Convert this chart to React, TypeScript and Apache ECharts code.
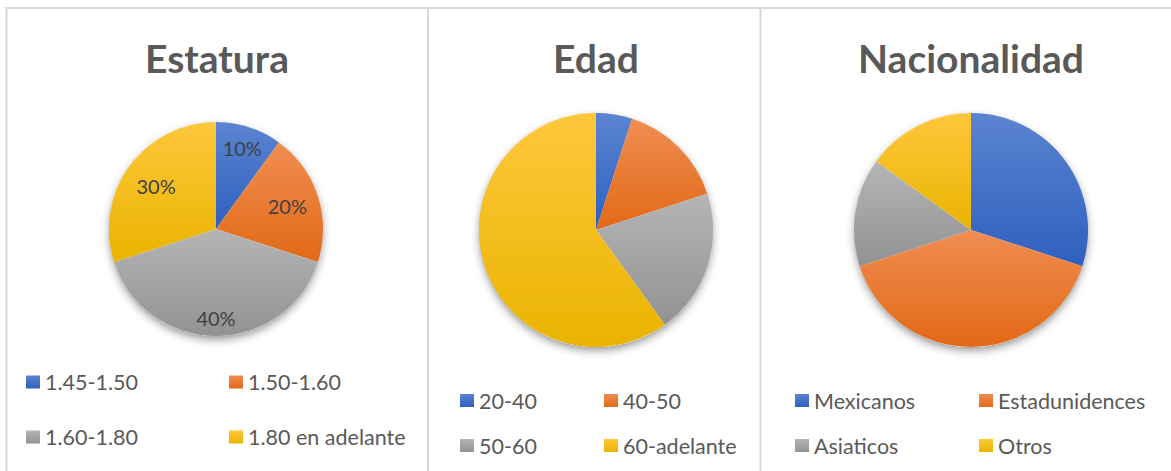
import React, { useEffect, useRef } from "react";
import * as echarts from "echarts";

// ---- data ----
const titles = ["Estatura", "Edad", "Nacionalidad"];
const estaturaCats = ["1.45-1.50", "1.50-1.60", "1.60-1.80", "1.80 en adelante"];
const estaturaVals = [10, 20, 40, 30];
const edadCats = ["20-40", "40-50", "50-60", "60-adelante"];
const edadVals = [5, 15, 20, 60];
const nacCats = ["Mexicanos", "Estadunidences", "Asiaticos", "Otros"];
const nacVals = [30, 40, 15, 15];

const gradients = [
  ["#5B84D1", "#2F60BE"],
  ["#F08D52", "#E26916"],
  ["#B5B5B5", "#929292"],
  ["#FFC73C", "#E9B400"],
];

const grad = (c: string[]) =>
  new echarts.graphic.LinearGradient(0, 0, 0, 1, [
    { offset: 0, color: c[0] },
    { offset: 1, color: c[1] },
  ]);

export default function App() {
  const ref = useRef<HTMLDivElement>(null);
  useEffect(() => {
    if (!ref.current) return;
    const chart = echarts.init(ref.current, undefined, { renderer: "svg" });

    const panels = [
      {
        cats: estaturaCats, vals: estaturaVals, cx: 216, cy: 229, r: 107, titleX: 217,
        labels: true, labelDist: [82, 72, 86, 71],
        cols: [26, 229], rows: [381.5, 436.5],
      },
      {
        cats: edadCats, vals: edadVals, cx: 596, cy: 230, r: 117, titleX: 596,
        labels: false, labelDist: [],
        cols: [460, 604], rows: [400, 445],
      },
      {
        cats: nacCats, vals: nacVals, cx: 971, cy: 230, r: 117, titleX: 971,
        labels: false, labelDist: [],
        cols: [795, 979], rows: [400, 445],
      },
    ];

    const series: any[] = [];
    const legends: any[] = [];
    const titleOpts: any[] = [];

    panels.forEach((p, pi) => {
      titleOpts.push({
        text: titles[pi],
        left: p.titleX,
        top: 58,
        textAlign: "center",
        textVerticalAlign: "middle",
        padding: 0,
        textStyle: { fontFamily: "Lato", fontWeight: "bold", fontSize: 39, color: "#595959" },
      });
      const data = p.cats.map((c, i) => ({
        name: c,
        value: p.vals[i],
        itemStyle: { color: grad(gradients[i]) },
      }));
      series.push({
        type: "pie",
        center: [p.cx, p.cy],
        radius: [0, p.r],
        z: 3,
        silent: true,
        label: { show: false },
        labelLine: { show: false },
        emphasis: { disabled: true },
        data,
      });
      // shadow disc
      series.push({
        type: "pie",
        center: [p.cx, p.cy + 1],
        radius: [0, p.r - 1],
        z: 1,
        silent: true,
        label: { show: false },
        labelLine: { show: false },
        emphasis: { disabled: true },
        data: [
          {
            name: "sombra" + pi,
            value: 1,
            itemStyle: {
              color: "#ffffff",
              shadowBlur: 10,
              shadowColor: "rgba(0,0,0,0.45)",
              shadowOffsetY: 3,
            },
          },
        ],
      });
      if (p.labels) {
        p.labelDist.forEach((d, k) => {
          series.push({
            type: "pie",
            center: [p.cx, p.cy],
            radius: [2 * d - p.r, p.r],
            z: 5,
            silent: true,
            emphasis: { disabled: true },
            labelLine: { show: false },
            itemStyle: { color: "rgba(0,0,0,0)" },
            data: p.cats.map((c, i) => ({
              name: c,
              value: p.vals[i],
              itemStyle: { color: "rgba(0,0,0,0)" },
              label: {
                show: i === k,
                position: "inside",
                formatter: (prm: any) => Math.round(prm.percent) + "%",
                fontFamily: "Lato",
                fontSize: 20,
                color: "#404040",
              },
            })),
          });
        });
      }
      p.cats.forEach((c, i) => {
        legends.push({
          data: [c],
          left: p.cols[i % 2],
          top: p.rows[Math.floor(i / 2)] - 10.5,
          padding: 0,
          itemWidth: 14,
          itemHeight: 13,
          icon: "rect",
          selectedMode: false,
          textStyle: { fontFamily: "Lato", fontSize: 21.5, color: "#595959" },
        });
      });
    });

    const lineStyle = { stroke: "#D9D9D9", lineWidth: 2 };
    chart.setOption({
      animation: false,
      backgroundColor: "#ffffff",
      title: titleOpts,
      legend: legends,
      series,
      graphic: [
        { type: "line", shape: { x1: 5, y1: 8, x2: 1171, y2: 8 }, style: lineStyle, z: 0 },
        { type: "line", shape: { x1: 6.5, y1: 7, x2: 6.5, y2: 471 }, style: lineStyle, z: 0 },
        { type: "line", shape: { x1: 428, y1: 7, x2: 428, y2: 471 }, style: lineStyle, z: 0 },
        { type: "line", shape: { x1: 760.5, y1: 7, x2: 760.5, y2: 471 }, style: lineStyle, z: 0 },
      ],
    });
    return () => chart.dispose();
  }, []);
  return (
    <div
      ref={ref}
      style={{ position: "fixed", left: 0, top: 0, width: 1171, height: 471 }}
    />
  );
}
